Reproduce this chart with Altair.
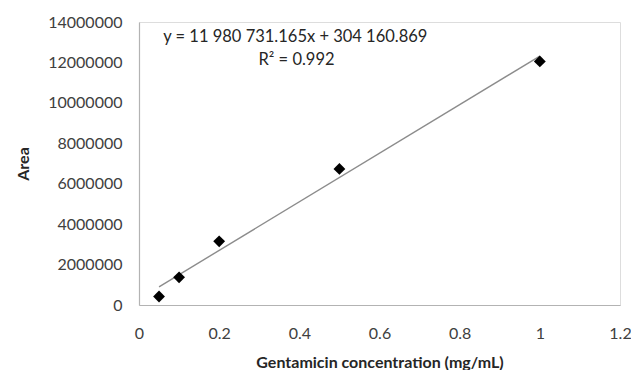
import altair as alt
import pandas as pd

concentration = [0.05, 0.1, 0.2, 0.5, 1.0]
area = [420000, 1370000, 3150000, 6730000, 12050000]
x_ticks = [0, 0.2, 0.4, 0.6, 0.8, 1.0, 1.2]
y_ticks = [0, 2000000, 4000000, 6000000, 8000000, 10000000, 12000000, 14000000]
equation_lines = ["y = 11 980 731.165x + 304 160.869", "R² = 0.992"]
eq_x = [0.39, 0.393]
eq_y = [13260000, 12120000]

df = pd.DataFrame({"x": concentration, "y": area})
eq_df = pd.DataFrame({"label": equation_lines, "x": eq_x, "y": eq_y})

FONT = "Lato"

xs = alt.Scale(domain=[0, 1.2], nice=False)
ys = alt.Scale(domain=[0, 14000000], nice=False)

x_axis = alt.Axis(
    values=x_ticks, format="~g", grid=False, ticks=False, tickSize=0,
    labelFlush=False, labelOverlap=False,
    labelPadding=20, labelFontSize=16, labelFont=FONT, labelColor="#404040",
    domainColor="#b3b3b3", domainWidth=1.2,
    title="Gentamicin concentration (mg/mL)", titleFont=FONT, titleFontSize=16,
    titleFontWeight="bold", titleColor="#262626", titleY=57, titleBaseline="middle",
)
y_axis = alt.Axis(
    values=y_ticks, format="d", grid=False, ticks=False, tickSize=0,
    labelFlush=False, labelOverlap=False,
    labelPadding=17, labelFontSize=16, labelFont=FONT, labelColor="#404040",
    domainColor="#b3b3b3", domainWidth=1.2,
    title="Area", titleFont=FONT, titleFontSize=16, titleFontWeight="bold",
    titleColor="#262626", titleX=-116, titleY=141.5, titleBaseline="middle",
    titleAlign="center", titleAngle=270,
)

base = alt.Chart(df)

trend = base.transform_regression("x", "y", extent=[0.05, 1.0]).mark_line(
    color="#8c8c8c", strokeWidth=1.4
).encode(
    x=alt.X("x:Q", scale=xs, axis=x_axis),
    y=alt.Y("y:Q", scale=ys, axis=y_axis),
)

points = base.mark_point(
    shape="diamond", filled=True, color="black", size=140, opacity=1
).encode(
    x=alt.X("x:Q", scale=xs),
    y=alt.Y("y:Q", scale=ys),
)

eq = alt.Chart(eq_df).mark_text(
    font=FONT, fontSize=16.5, color="#262626", align="center", baseline="middle"
).encode(
    x=alt.X("x:Q", scale=xs),
    y=alt.Y("y:Q", scale=ys),
    text="label:N",
)

chart = alt.layer(trend, points, eq).properties(
    width=481, height=283,
    autosize=alt.AutoSizeParams(type="none"),
    padding={"left": 131, "top": 14, "right": 11, "bottom": 65},
).configure_view(stroke=None).configure(background="white")

chart.save("out.html", embed_options={"renderer": "svg", "actions": False})
